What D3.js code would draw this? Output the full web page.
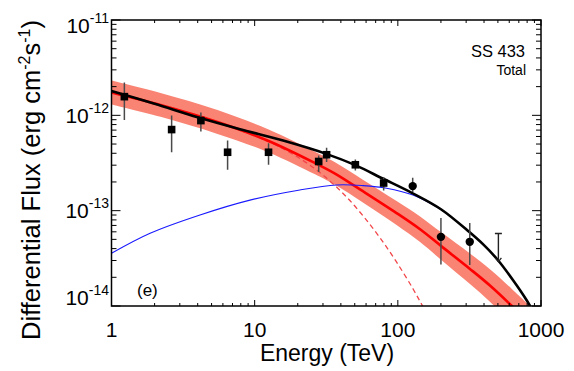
<!DOCTYPE html>
<html>
<head>
<meta charset="utf-8">
<script src="https://cdn.jsdelivr.net/npm/d3@7"></script>
<style>
  html, body { margin: 0; padding: 0; background: #fff; }
  svg { display: block; font-family: "Liberation Sans", Arial, Helvetica, sans-serif; }
</style>
</head>
<body>
<svg id="chart" width="574" height="371"></svg>
<script>
// ---- Data ----
// Measured points
const pointEnergy = [1.23, 2.63, 4.21, 6.47, 12.5, 28.0, 31.8, 50.5, 79.6, 127, 200, 318];
const pointFlux   = [1.57e-12, 7.09e-13, 8.81e-13, 4.10e-13, 4.10e-13, 3.28e-13, 3.86e-13, 3.03e-13, 1.95e-13, 1.81e-13, 5.31e-14, 4.71e-14];
const pointErrHi  = [2.21e-12, 9.93e-13, 1.074e-12, 5.44e-13, 5.09e-13, 3.79e-13, 4.56e-13, 3.44e-13, 2.25e-13, 2.22e-13, 8.39e-14, 7.44e-14];
const pointErrLo  = [8.95e-13, 4.10e-13, 6.76e-13, 2.69e-13, 3.03e-13, 2.54e-13, 3.23e-13, 2.64e-13, 1.63e-13, 1.57e-13, 2.73e-14, 2.69e-14];
const pointShape  = ["square","square","square","square","square","square","square","square","square","circle","circle","circle"];
// Upper limit
const ulEnergy = [504];
const ulTop    = [5.77e-14];
const ulBottom = [2.91e-14];

// Total model (black)
const totalEnergy = [1, 2, 4, 7.9, 15.8, 31.6, 50, 79, 126, 200, 316, 398, 501, 631, 794, 891];
const totalFlux   = [1.80e-12, 1.32e-12, 9.55e-13, 7.16e-13, 5.43e-13, 3.94e-13, 3.02e-13, 2.16e-13, 1.53e-13, 1.035e-13, 5.96e-14, 4.37e-14, 3.02e-14, 1.91e-14, 1.15e-14, 8.5e-15];

// Red model (solid) with its uncertainty band
const redEnergy = [1, 2.2, 5.5, 12.4, 26.4, 36.4, 57, 98, 143, 202, 319, 440, 626, 837];
const redFlux   = [1.736e-12, 1.285e-12, 8.51e-13, 5.42e-13, 3.16e-13, 2.45e-13, 1.60e-13, 9.44e-14, 6.38e-14, 4.22e-14, 2.45e-14, 1.64e-14, 1.0e-14, 6.46e-15];
const redBandHi = [2.315e-12, 1.714e-12, 1.135e-12, 7.14e-13, 4.15e-13, 3.22e-13, 2.11e-13, 1.26e-13, 8.71e-14, 5.89e-14, 3.55e-14, 2.43e-14, 1.51e-14, 1.0e-14];
const redBandLo = [1.301e-12, 9.64e-13, 6.38e-13, 4.11e-13, 2.41e-13, 1.87e-13, 1.22e-13, 7.08e-14, 4.68e-14, 3.02e-14, 1.70e-14, 1.11e-14, 6.61e-15, 4.17e-15];

// Red dashed model
const dashEnergy = [1, 2.2, 5.5, 12.8, 17.6, 24.3, 33.6, 43.9, 57.1, 75.0, 98.1, 128.1, 150.4, 175];
const dashFlux   = [1.736e-12, 1.285e-12, 8.51e-13, 5.19e-13, 4.08e-13, 3.01e-13, 2.04e-13, 1.387e-13, 8.83e-14, 5.20e-14, 2.88e-14, 1.50e-14, 9.7e-15, 6.3e-15];

// Blue model
const blueEnergy = [1, 1.86, 4.15, 9.27, 20.7, 37.4, 57.1, 83.5, 127.5, 186.6, 213];
const blueFlux   = [3.57e-14, 5.79e-14, 9.01e-14, 1.29e-13, 1.65e-13, 1.86e-13, 1.83e-13, 1.72e-13, 1.46e-13, 1.10e-13, 9.68e-14];

// Axes
const xMajorTicks = [1, 10, 100, 1000];
const xTickLabels = ["1", "10", "100", "1000"];
const yMajorTicks = [1e-11, 1e-12, 1e-13, 1e-14];
const yTickExponents = ["-11", "-12", "-13", "-14"];

// ---- Layout ----
const L = 111.5, R = 541, T = 20, B = 306;
const svg = d3.select("#chart");
const x = d3.scaleLog().domain([1, 1000]).range([L, R]);
const y = d3.scaleLog().domain([1e-14, 1e-11]).range([B, T]);

svg.append("defs").append("clipPath").attr("id", "plotclip")
  .append("rect").attr("x", L).attr("y", T).attr("width", R - L).attr("height", B - T);

const plot = svg.append("g").attr("clip-path", "url(#plotclip)");

// band
const band = redEnergy.map((e, i) => ({e, lo: redBandLo[i], hi: redBandHi[i]}));
plot.append("path").datum(band)
  .attr("d", d3.area().x(d => x(d.e)).y0(d => y(d.lo)).y1(d => y(d.hi)).curve(d3.curveCatmullRom))
  .attr("fill", "#f98474").attr("stroke", "none");

const line = d3.line().x(d => x(d[0])).y(d => y(d[1])).curve(d3.curveCatmullRom);

plot.append("path").datum(dashEnergy.map((e, i) => [e, dashFlux[i]]))
  .attr("d", line).attr("fill", "none").attr("stroke", "#f2464a")
  .attr("stroke-width", 1.3).attr("stroke-dasharray", "5,3.5");

plot.append("path").datum(redEnergy.map((e, i) => [e, redFlux[i]]))
  .attr("d", line).attr("fill", "none").attr("stroke", "#ff0000").attr("stroke-width", 2.6);

plot.append("path").datum(blueEnergy.map((e, i) => [e, blueFlux[i]]))
  .attr("d", line).attr("fill", "none").attr("stroke", "#1a1aff").attr("stroke-width", 1.1);

plot.append("path").datum(totalEnergy.map((e, i) => [e, totalFlux[i]]))
  .attr("d", line).attr("fill", "none").attr("stroke", "#000").attr("stroke-width", 2.6);

// error bars
const pts = pointEnergy.map((e, i) => ({e, f: pointFlux[i], hi: pointErrHi[i], lo: pointErrLo[i], s: pointShape[i]}));
plot.selectAll(".err").data(pts).enter().append("line")
  .attr("x1", d => x(d.e)).attr("x2", d => x(d.e))
  .attr("y1", d => y(d.hi)).attr("y2", d => y(d.lo))
  .attr("stroke", "#4a4a4a").attr("stroke-width", 1.5);

plot.selectAll(".sq").data(pts.filter(d => d.s === "square")).enter().append("rect")
  .attr("x", d => x(d.e) - 3.8).attr("y", d => y(d.f) - 3.8)
  .attr("width", 7.6).attr("height", 7.6).attr("fill", "#000");

plot.selectAll(".ci").data(pts.filter(d => d.s === "circle")).enter().append("circle")
  .attr("cx", d => x(d.e)).attr("cy", d => y(d.f)).attr("r", 4.2).attr("fill", "#000");

// upper limit
ulEnergy.forEach((e, i) => {
  const cx = x(e), yt = y(ulTop[i]), yb = y(ulBottom[i]);
  plot.append("line").attr("x1", cx).attr("x2", cx).attr("y1", yt).attr("y2", yb)
    .attr("stroke", "#222").attr("stroke-width", 1.4);
  plot.append("line").attr("x1", cx - 3.5).attr("x2", cx + 3.5).attr("y1", yt).attr("y2", yt)
    .attr("stroke", "#222").attr("stroke-width", 1.4);
  plot.append("path").attr("d", `M${cx - 3},${yb - 4} L${cx},${yb} L${cx + 3},${yb - 4}`)
    .attr("fill", "none").attr("stroke", "#222").attr("stroke-width", 1.3);
});

// ---- Ticks ----
const axisG = svg.append("g").attr("stroke", "#000").attr("stroke-width", 1);
const xMinor = [], yMinor = [];
for (let d = 1; d < 1000; d *= 10) for (let k = 2; k <= 9; k++) xMinor.push(d * k);
for (let d = 1e-14; d < 1e-11 * 0.99; d *= 10) for (let k = 2; k <= 9; k++) yMinor.push(d * k);

xMajorTicks.forEach(v => {
  axisG.append("line").attr("x1", x(v)).attr("x2", x(v)).attr("y1", B).attr("y2", B - 6);
  axisG.append("line").attr("x1", x(v)).attr("x2", x(v)).attr("y1", T).attr("y2", T + 6);
});
xMinor.forEach(v => {
  axisG.append("line").attr("x1", x(v)).attr("x2", x(v)).attr("y1", B).attr("y2", B - 3);
  axisG.append("line").attr("x1", x(v)).attr("x2", x(v)).attr("y1", T).attr("y2", T + 3);
});
yMajorTicks.forEach(v => {
  axisG.append("line").attr("x1", L).attr("x2", L + 9).attr("y1", y(v)).attr("y2", y(v));
  axisG.append("line").attr("x1", R).attr("x2", R - 9).attr("y1", y(v)).attr("y2", y(v));
});
yMinor.forEach(v => {
  axisG.append("line").attr("x1", L).attr("x2", L + 5).attr("y1", y(v)).attr("y2", y(v));
  axisG.append("line").attr("x1", R).attr("x2", R - 5).attr("y1", y(v)).attr("y2", y(v));
});

// frame
svg.append("rect").attr("x", L).attr("y", T).attr("width", R - L).attr("height", B - T)
  .attr("fill", "none").attr("stroke", "#000").attr("stroke-width", 1.5);

// ---- Tick labels ----
xMajorTicks.forEach((v, i) => {
  svg.append("text").attr("x", x(v)).attr("y", 337).attr("text-anchor", "middle")
    .attr("font-size", 21).attr("fill", "#000").text(xTickLabels[i]);
});
yMajorTicks.forEach((v, i) => {
  const base = Math.max(T + 13, Math.min(B - 1, y(v) + 7.5));
  const t = svg.append("text").attr("x", 109).attr("y", base).attr("text-anchor", "end").attr("fill", "#000");
  t.append("tspan").attr("font-size", 21).text("10");
  t.append("tspan").attr("font-size", 14).attr("dy", -10).text(yTickExponents[i]);
});

// ---- Titles ----
svg.append("text").attr("x", 327).attr("y", 361).attr("text-anchor", "middle")
  .attr("font-size", 23).attr("fill", "#000").text("Energy (TeV)");

const yt = svg.append("text").attr("transform", "translate(40,180) rotate(-90)")
  .attr("text-anchor", "middle").attr("font-size", 25.5).attr("fill", "#000");
yt.append("tspan").text("Differential Flux (erg cm");
yt.append("tspan").attr("font-size", 16).attr("dy", -10).text("-2");
yt.append("tspan").attr("dy", 10).text("s");
yt.append("tspan").attr("font-size", 16).attr("dy", -10).text("-1");
yt.append("tspan").attr("dy", 10).text(")");

svg.append("text").attr("x", 525).attr("y", 57).attr("text-anchor", "end")
  .attr("font-size", 16.5).attr("fill", "#000").text("SS 433");
svg.append("text").attr("x", 526).attr("y", 75).attr("text-anchor", "end")
  .attr("font-size", 14).attr("fill", "#000").text("Total");
svg.append("text").attr("x", 137).attr("y", 296).attr("text-anchor", "start")
  .attr("font-size", 17).attr("fill", "#000").text("(e)");
</script>
</body>
</html>
